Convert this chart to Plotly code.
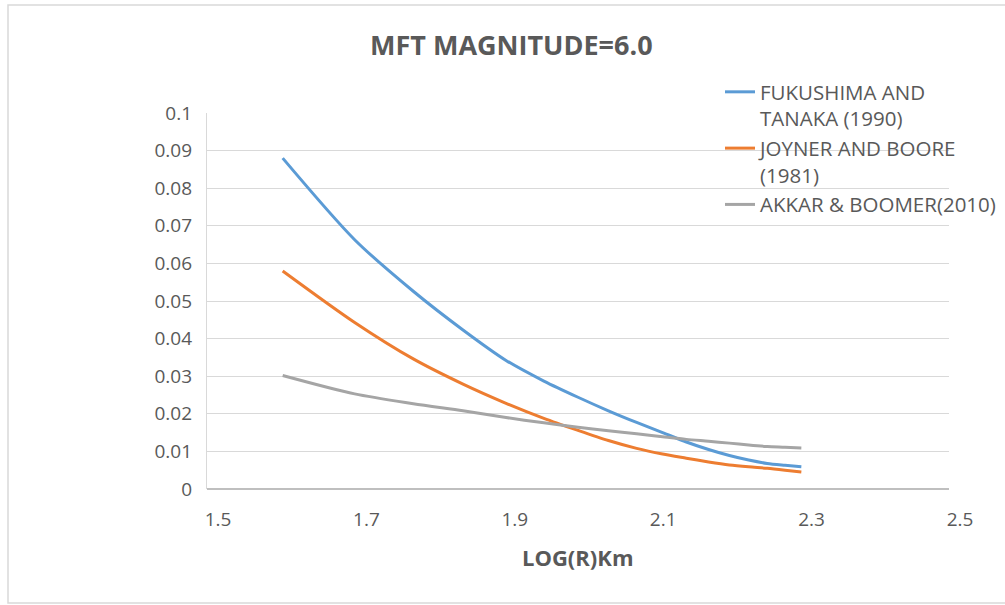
import plotly.graph_objects as go

# log10 of distance R (km): 40, 50, ..., 200
LOG_R = [1.602, 1.699, 1.778, 1.845, 1.903, 1.954, 2.000, 2.041, 2.079,
         2.114, 2.146, 2.176, 2.204, 2.230, 2.255, 2.279, 2.301]

FUKUSHIMA_TANAKA = [0.0880, 0.0663, 0.0526, 0.0423, 0.0342, 0.0287, 0.0244,
                    0.0208, 0.0177, 0.0150, 0.0125, 0.0105, 0.0089, 0.0077,
                    0.0068, 0.0063, 0.0059]
JOYNER_BOORE = [0.0580, 0.0443, 0.0346, 0.0279, 0.0228, 0.0188, 0.0156,
                0.0129, 0.0108, 0.0093, 0.0082, 0.0072, 0.0064, 0.0059,
                0.0055, 0.0050, 0.0045]
AKKAR_BOOMER = [0.0302, 0.0253, 0.0227, 0.0208, 0.0190, 0.0176, 0.0164,
                0.0155, 0.0147, 0.0139, 0.0132, 0.0127, 0.0122, 0.0117,
                0.0113, 0.0111, 0.0109]

SERIES_NAMES = ["FUKUSHIMA AND<br>TANAKA (1990)",
                "JOYNER AND BOORE<br>(1981)",
                "AKKAR & BOOMER(2010)"]
SERIES_COLORS = ["#5B9BD5", "#ED7D31", "#A5A5A5"]

X_TICKS = [1.5, 1.7, 1.9, 2.1, 2.3, 2.5]

W, H = 1005, 605
L, R, T, B = 207, 56, 113, 116
PW, PH = W - L - R, H - T - B


def px_x(p):
    return (p - L) / PW


def px_y(p):
    return (H - B - p) / PH


TEXT = "#595959"
FONT = "Open Sans"

fig = go.Figure()
for name, ys, color in zip(SERIES_NAMES,
                           [FUKUSHIMA_TANAKA, JOYNER_BOORE, AKKAR_BOOMER],
                           SERIES_COLORS):
    fig.add_trace(go.Scatter(
        x=LOG_R, y=ys, name=name, mode="lines",
        line=dict(color=color, width=3, shape="spline", smoothing=0.8),
    ))

fig.update_layout(
    width=W, height=H,
    margin=dict(l=L, r=R, t=T, b=B, autoexpand=False),
    paper_bgcolor="white", plot_bgcolor="white",
    font=dict(family=FONT, color=TEXT, size=19),
    showlegend=True,
    legend=dict(
        x=px_x(720), y=px_y(72), xanchor="left", yanchor="top",
        bgcolor="rgba(0,0,0,0)", font=dict(size=20.5, color=TEXT),
        valign="top", tracegroupgap=0, itemwidth=30,
    ),
    annotations=[
        dict(text="<b>MFT MAGNITUDE=6.0</b>", x=px_x(511), y=px_y(45),
             xref="paper", yref="paper", showarrow=False,
             xanchor="center", yanchor="middle",
             font=dict(size=27, color=TEXT, family=FONT)),
        dict(text="<b>LOG(R)Km</b>", x=px_x(578), y=px_y(557),
             xref="paper", yref="paper", showarrow=False,
             xanchor="center", yanchor="middle",
             font=dict(size=22, color=TEXT, family=FONT)),
    ],
    shapes=[
        dict(type="rect", xref="paper", yref="paper",
             x0=px_x(8), x1=px_x(1012), y0=px_y(603), y1=px_y(5),
             line=dict(color="#D9D9D9", width=1.5), layer="below"),
    ],
)

fig.update_xaxes(
    range=[1.5, 2.5], tickvals=X_TICKS, ticktext=[str(v) for v in X_TICKS],
    showgrid=False, zeroline=False, showline=False, ticks="",
    tickfont=dict(size=19, color=TEXT), ticklabelshift=11,
    ticklabelstandoff=17,
)
fig.update_yaxes(
    range=[0, 0.1], dtick=0.01, tick0=0,
    showgrid=True, gridcolor="#D9D9D9", gridwidth=1.3,
    zeroline=True, zerolinecolor="#BFBFBF", zerolinewidth=1.5,
    showline=True, linecolor="#D9D9D9", linewidth=1.3, ticks="",
    tickfont=dict(size=19, color=TEXT), ticklabelstandoff=10,
)

fig.write_html("out.html")
